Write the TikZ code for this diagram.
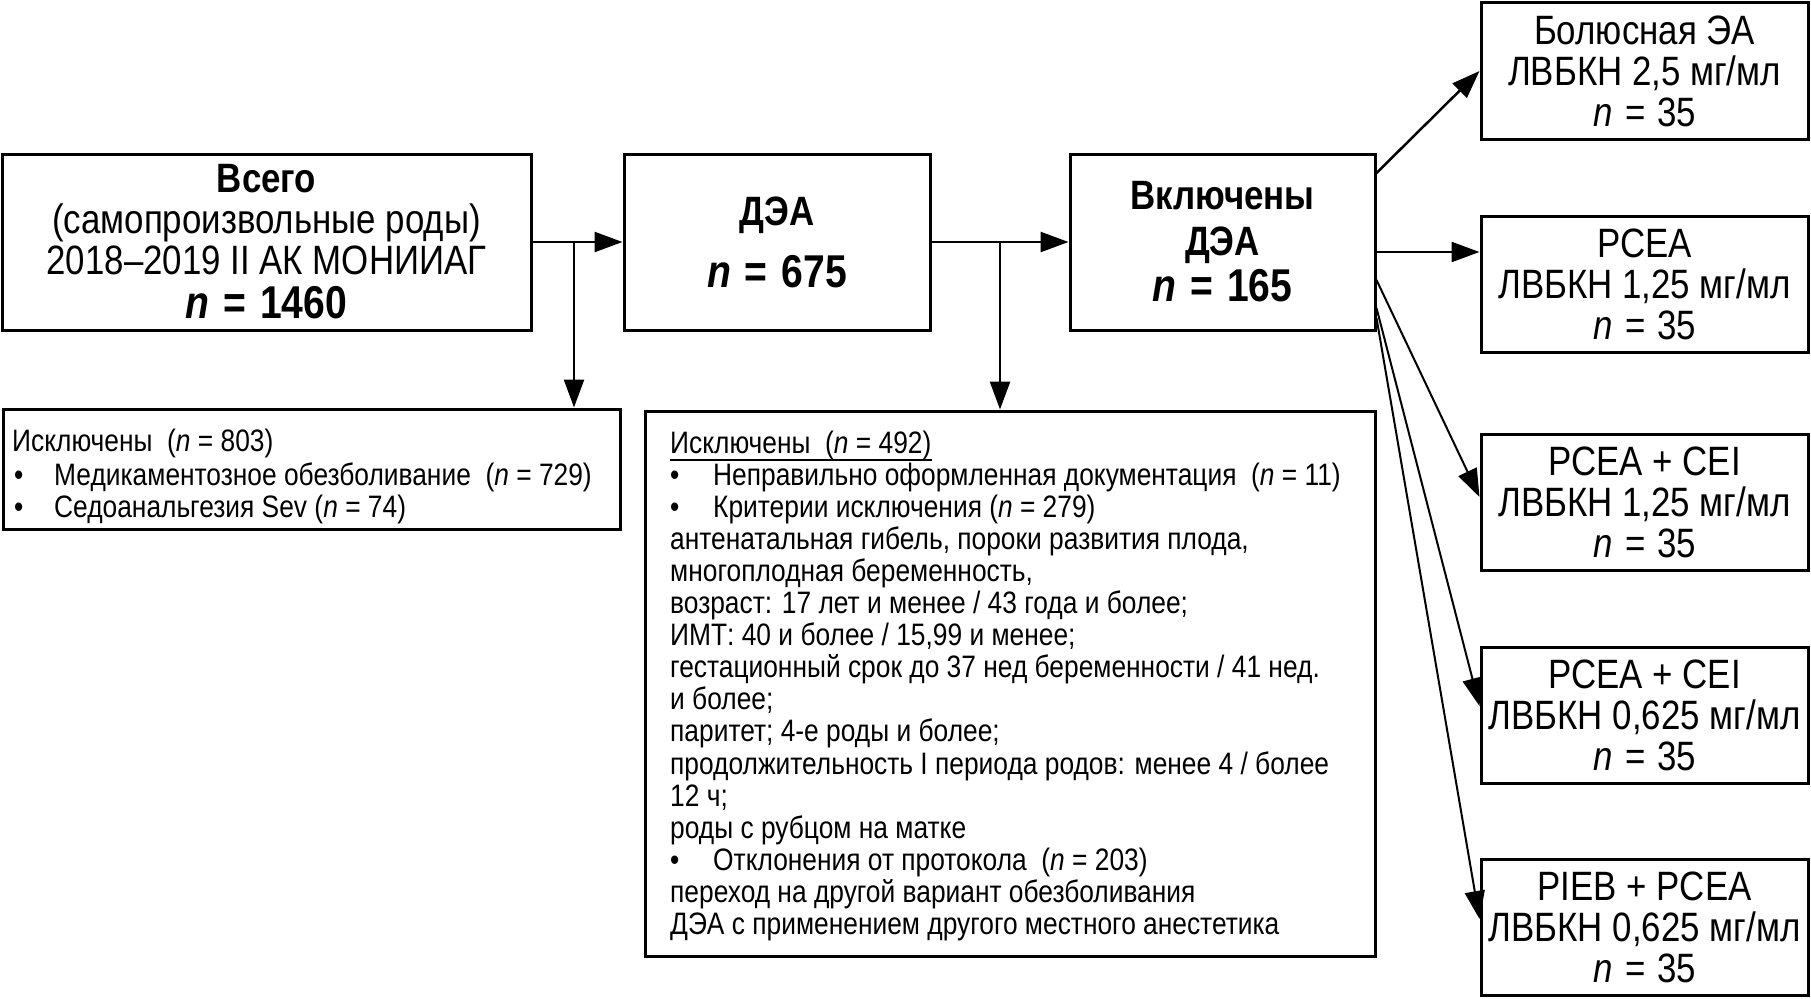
\documentclass[tikz,border=0pt]{standalone}
\usepackage{fontspec}
\setmainfont{Liberation Sans}[FakeStretch=0.85]
\usetikzlibrary{arrows.meta}
\newcommand{\nbig}[1]{{\fontsize{46}{41}\selectfont\textbf{\textit{n}\kern3pt\ =\ \kern3pt#1}}}
\newcommand{\nsm}[1]{\textit{n}\kern3pt\ =\ \kern2pt#1}
\newcommand{\dsp}{\ \ }
\begin{document}
\begin{tikzpicture}[x=1pt,y=-1pt,
  box/.style={draw,line width=3pt,inner sep=0pt,align=center},
  bigtext/.style={font=\fontsize{41}{41}\selectfont},
  small/.style={font=\fontsize{31}{32}\selectfont,inner sep=0pt,anchor=base west},
  arr/.style={line width=2.5pt,-{Triangle[length=28pt,width=20pt]}},
  thinarr/.style={line width=2pt,-{Triangle[length=28pt,width=20pt]}}]
\useasboundingbox (0,0) rectangle (1811,998);
% main boxes
\node[box,bigtext,minimum width=529pt,minimum height=176pt] (A) at (266.5,242)
  {\textbf{Всего}\\(самопроизвольные роды)\\2018–2019 II АК МОНИИАГ\\[3pt]\nbig{1460}};
\node[box,bigtext,minimum width=306pt,minimum height=176pt] (B) at (777,242)
  {\textbf{ДЭА}\\[21pt]\nbig{675}};
\node[box,font=\fontsize{41}{46}\selectfont,minimum width=305pt,minimum height=176pt] (C) at (1222.5,242)
  {\textbf{Включены}\\\textbf{ДЭА}\\\nbig{165}};
% exclusion boxes
\node[box,minimum width=617pt,minimum height=120pt] (E1) at (311.5,469) {};
\node[box,minimum width=730pt,minimum height=545pt] (E2) at (1010,683.5) {};
% right boxes
\node[box,bigtext,minimum width=327pt,minimum height=136pt] (R1) at (1644.5,71)
  {Болюсная ЭА\\ЛВБКН 2,5 мг/мл\\\nsm{35}};
\node[box,bigtext,minimum width=327pt,minimum height=136pt] (R2) at (1644.5,284)
  {PCEA\\ЛВБКН 1,25 мг/мл\\\nsm{35}};
\node[box,bigtext,minimum width=327pt,minimum height=136pt] (R3) at (1644.5,502.5)
  {PCEA + CEI\\ЛВБКН 1,25 мг/мл\\\nsm{35}};
\node[box,bigtext,minimum width=327pt,minimum height=136pt] (R4) at (1644.5,715.5)
  {PCEA + CEI\\ЛВБКН 0,625 мг/мл\\\nsm{35}};
\node[box,bigtext,minimum width=327pt,minimum height=136pt] (R5) at (1644.5,927)
  {PIEB + PCEA\\ЛВБКН 0,625 мг/мл\\\nsm{35}};
% text of exclusion box 1
\node[small] (e1a) at (12,451) {Исключены\dsp(\textit{n} = 803)};
\node[small] (e1b) at (14,485) {\makebox[40pt][l]{•}Медикаментозное обезболивание\dsp(\textit{n} = 729)};
\node[small] (e1c) at (14,517) {\makebox[40pt][l]{•}Седоанальгезия Sev (\textit{n} = 74)};
% text of exclusion box 2
\foreach \t [count=\i from 0] in {
  {Исключены\dsp(\textit{n} = 492)},
  {\makebox[43pt][l]{•}Неправильно оформленная документация\dsp(\textit{n} = 11)},
  {\makebox[43pt][l]{•}Критерии исключения (\textit{n} = 279)},
  {антенатальная гибель, пороки развития плода,},
  {многоплодная беременность,},
  {возраст: 17 лет и менее / 43 года и более;},
  {ИМТ: 40 и более / 15,99 и менее;},
  {гестационный срок до 37 нед беременности / 41 нед.},
  {и более;},
  {паритет; 4-е роды и более;},
  {продолжительность I периода родов: менее 4 / более},
  {12 ч;},
  {роды с рубцом на матке},
  {\makebox[43pt][l]{•}Отклонения от протокола\dsp(\textit{n} = 203)},
  {переход на другой вариант обезболивания},
  {ДЭА с применением другого местного анестетика}}
  \node[small] (e2l\i) at (670,453+\i*32.1) {\t};
\draw[line width=1.6pt] ([yshift=-7pt]e2l0.base west) -- ([yshift=-7pt]e2l0.base east);
% connectors
\coordinate (j1) at (574,242);
\coordinate (j2) at (1000,242);
\draw[arr] (A.east) -- (B.west);
\draw[arr] (j1) -- (j1 |- E1.north);
\draw[arr] (B.east) -- (C.west);
\draw[arr] (j2) -- (j2 |- E2.north);
\draw[arr] (C.east |- 0,173) -- (R1.west);
\draw[arr] (C.east |- 0,252) -- (R2.west |- 0,252);
\draw[thinarr] (C.east |- 0,280) -- (R3.west |- 0,497);
\draw[thinarr] (C.east |- 0,308) -- (R4.west |- 0,706);
\draw[thinarr] (C.east |- 0,318) -- (R5.west |- 0,919);
\end{tikzpicture}
\end{document}
